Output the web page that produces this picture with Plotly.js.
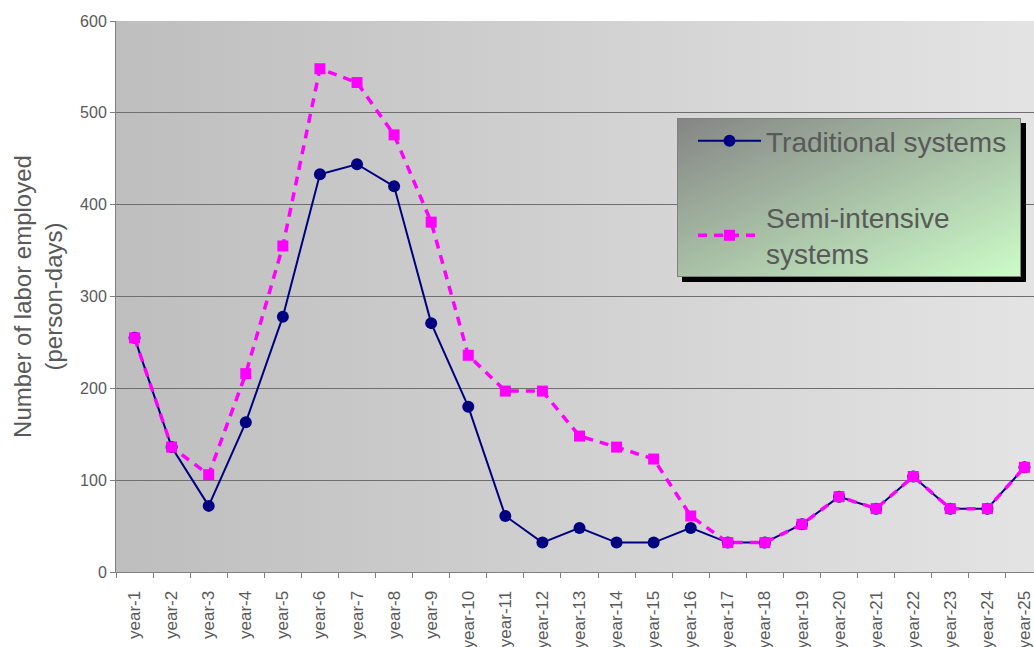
<!DOCTYPE html>
<html><head><meta charset="utf-8">
<script src="https://cdn.plot.ly/plotly-3.0.1.min.js"></script>
<style>html,body{margin:0;padding:0;overflow:hidden;background:#fff}#chart{position:absolute;left:0;top:0}</style>
</head><body><div id="chart"></div>
<script>
const years = ["year-1","year-2","year-3","year-4","year-5","year-6","year-7","year-8","year-9","year-10","year-11","year-12","year-13","year-14","year-15","year-16","year-17","year-18","year-19","year-20","year-21","year-22","year-23","year-24","year-25"];
const traditional = [255,136,72,163,278,433,444,420,271,180,61,32,48,32,32,48,32,32,52,82,69,104,69,69,114];
const semiIntensive = [255,136,106,216,355,548,533,476,381,236,197,197,148,136,123,61,32,32,52,82,69,104,69,69,114];
const seriesNames = ["Traditional systems","Semi-intensive<br>systems"];
const yTicks = [0,100,200,300,400,500,600];

function svgUri(s){return 'data:image/svg+xml;charset=utf-8,'+encodeURIComponent(s);}
const plotBg = svgUri('<svg xmlns="http://www.w3.org/2000/svg" width="100" height="100" viewBox="0 0 100 100" preserveAspectRatio="none"><defs><linearGradient id="g" x1="0" y1="0" x2="1" y2="0"><stop offset="0" stop-color="#bebebe"/><stop offset="1" stop-color="#e4e4e4"/></linearGradient></defs><rect x="0" y="0" width="100" height="100" fill="url(#g)"/></svg>');
const legBg = svgUri('<svg xmlns="http://www.w3.org/2000/svg" width="349" height="164" viewBox="0 0 349 164" preserveAspectRatio="none"><defs><linearGradient id="l" x1="0" y1="0" x2="1" y2="1"><stop offset="0" stop-color="#858585"/><stop offset="1" stop-color="#ccfcc8"/></linearGradient></defs><rect x="5" y="5" width="344" height="159" fill="#000"/><rect x="0.5" y="0.5" width="343" height="158" fill="url(#l)" stroke="#808080" stroke-width="1"/></svg>');

const W = 1050, H = 700;
const mL = 116, mT = 21, mR = 7, mB = 128;
const pw = W - mL - mR, ph = H - mT - mB;
function px2x(p){return (p - mL)/pw;}
function px2y(p){return (mT + ph - p)/ph;}

const font = "Liberation Sans, Arial, sans-serif";
const traces = [
  {x: years, y: traditional, name: seriesNames[0], type: 'scatter', mode: 'lines+markers', legendgroup: 'a',
   line: {color: '#000080', width: 2}, marker: {symbol: 'circle', size: 12, color: '#000080'}},
  {x: years, y: semiIntensive, name: seriesNames[1], type: 'scatter', mode: 'lines+markers', legendgroup: 'b',
   line: {color: '#ff00ff', width: 3.5, dash: '9px,7px'}, marker: {symbol: 'square', size: 11, color: '#ff00ff'}}
];
const layout = {
  width: W, height: H,
  margin: {l: mL, r: mR, t: mT, b: mB, pad: 0},
  paper_bgcolor: '#ffffff', plot_bgcolor: 'rgba(0,0,0,0)',
  font: {family: font, color: '#595959'},
  xaxis: {type: 'category', tickangle: -90, tickfont: {size: 17, color: '#595959'},
    ticks: 'outside', ticklen: 5, tickcolor: '#808080', tickson: 'boundaries', ticklabelstandoff: 11,
    showline: true, linecolor: '#808080', linewidth: 1, showgrid: false, range: [-0.5, 24.5], fixedrange: true},
  yaxis: {range: [0, 600], tickvals: yTicks, tickfont: {size: 16, color: '#595959'},
    ticks: 'outside', ticklen: 5, tickcolor: '#808080', showline: true, linecolor: '#808080', linewidth: 1,
    showgrid: true, gridcolor: '#6e6e6e', gridwidth: 1, zeroline: false,
    title: {text: 'Number of labor employed<br>(person-days)', font: {size: 24, color: '#595959'}, standoff: 10}},
  showlegend: true,
  legend: {x: px2x(693), y: px2y(116), xanchor: 'left', yanchor: 'top', bgcolor: 'rgba(0,0,0,0)', borderwidth: 0,
    font: {size: 28, color: '#595959', family: font}, traceorder: 'grouped', tracegroupgap: 37, itemwidth: 63},
  images: [
    {source: plotBg, xref: 'paper', yref: 'paper', x: 0, y: 1, sizex: 1, sizey: 1, sizing: 'stretch', xanchor: 'left', yanchor: 'top', layer: 'below'},
    {source: legBg, xref: 'paper', yref: 'paper', x: px2x(677), y: px2y(118), sizex: px2x(677+349)-px2x(677), sizey: px2y(118)-px2y(118+164), sizing: 'stretch', xanchor: 'left', yanchor: 'top', layer: 'above'}
  ]
};
Plotly.newPlot('chart', traces, layout, {displayModeBar: false, staticPlot: true});
</script></body></html>
